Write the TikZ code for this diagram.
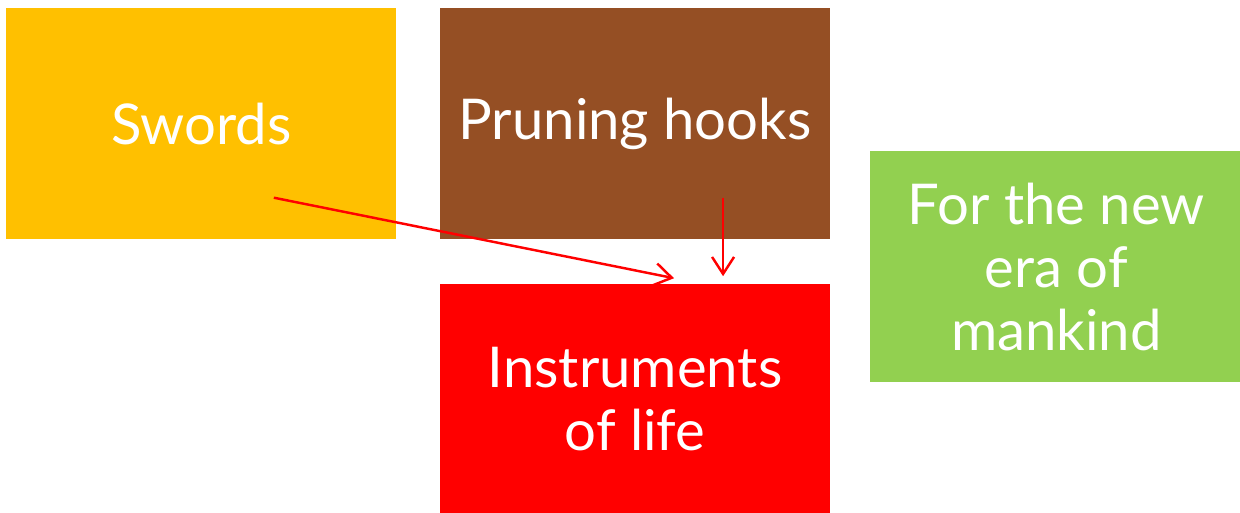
\documentclass[tikz,border=0pt]{standalone}
\usepackage{fontspec}
\setmainfont{Lato}
\usetikzlibrary{arrows.meta,positioning}
\definecolor{swordgold}{HTML}{FFC000}
\definecolor{hookbrown}{HTML}{954F24}
\definecolor{lifered}{HTML}{FF0000}
\definecolor{eragreen}{HTML}{92D050}

\begin{document}
\begin{tikzpicture}[
   node distance=8.7mm and 8.6mm,
   box/.style={fill,text=white,align=center,font=\fontsize{32}{36}\selectfont,
               minimum width=7.8cm,minimum height=4.62cm,inner sep=0pt},
   link/.style={->,draw=red,line width=1.4pt},
   >={Straight Barb[length=3.4mm,width=4.4mm]}]
  \useasboundingbox (0,0) rectangle (24.8,-10.24);
  \node[box,fill=swordgold,anchor=north west] (swords) at (0.12,-0.16) {Swords};
  \node[box,fill=hookbrown,right=of swords] (hooks) {Pruning hooks};
  \node[box,fill=lifered,below=of hooks] (life) {Instruments\\of life};
  \node[box,fill=eragreen,minimum width=7.46cm,right=7.8mm of hooks.north east,
        anchor=north west,yshift=-2.86cm] (era) {For the new\\era of\\mankind};
  \draw[link] ([xshift=14.5mm,yshift=8.4mm]swords.south) -- ([xshift=7.8mm,yshift=1mm]life.north);
  \draw[link] ([xshift=17.6mm,yshift=8.4mm]hooks.south) -- ([xshift=17.6mm,yshift=1.4mm]life.north);
\end{tikzpicture}
\end{document}
